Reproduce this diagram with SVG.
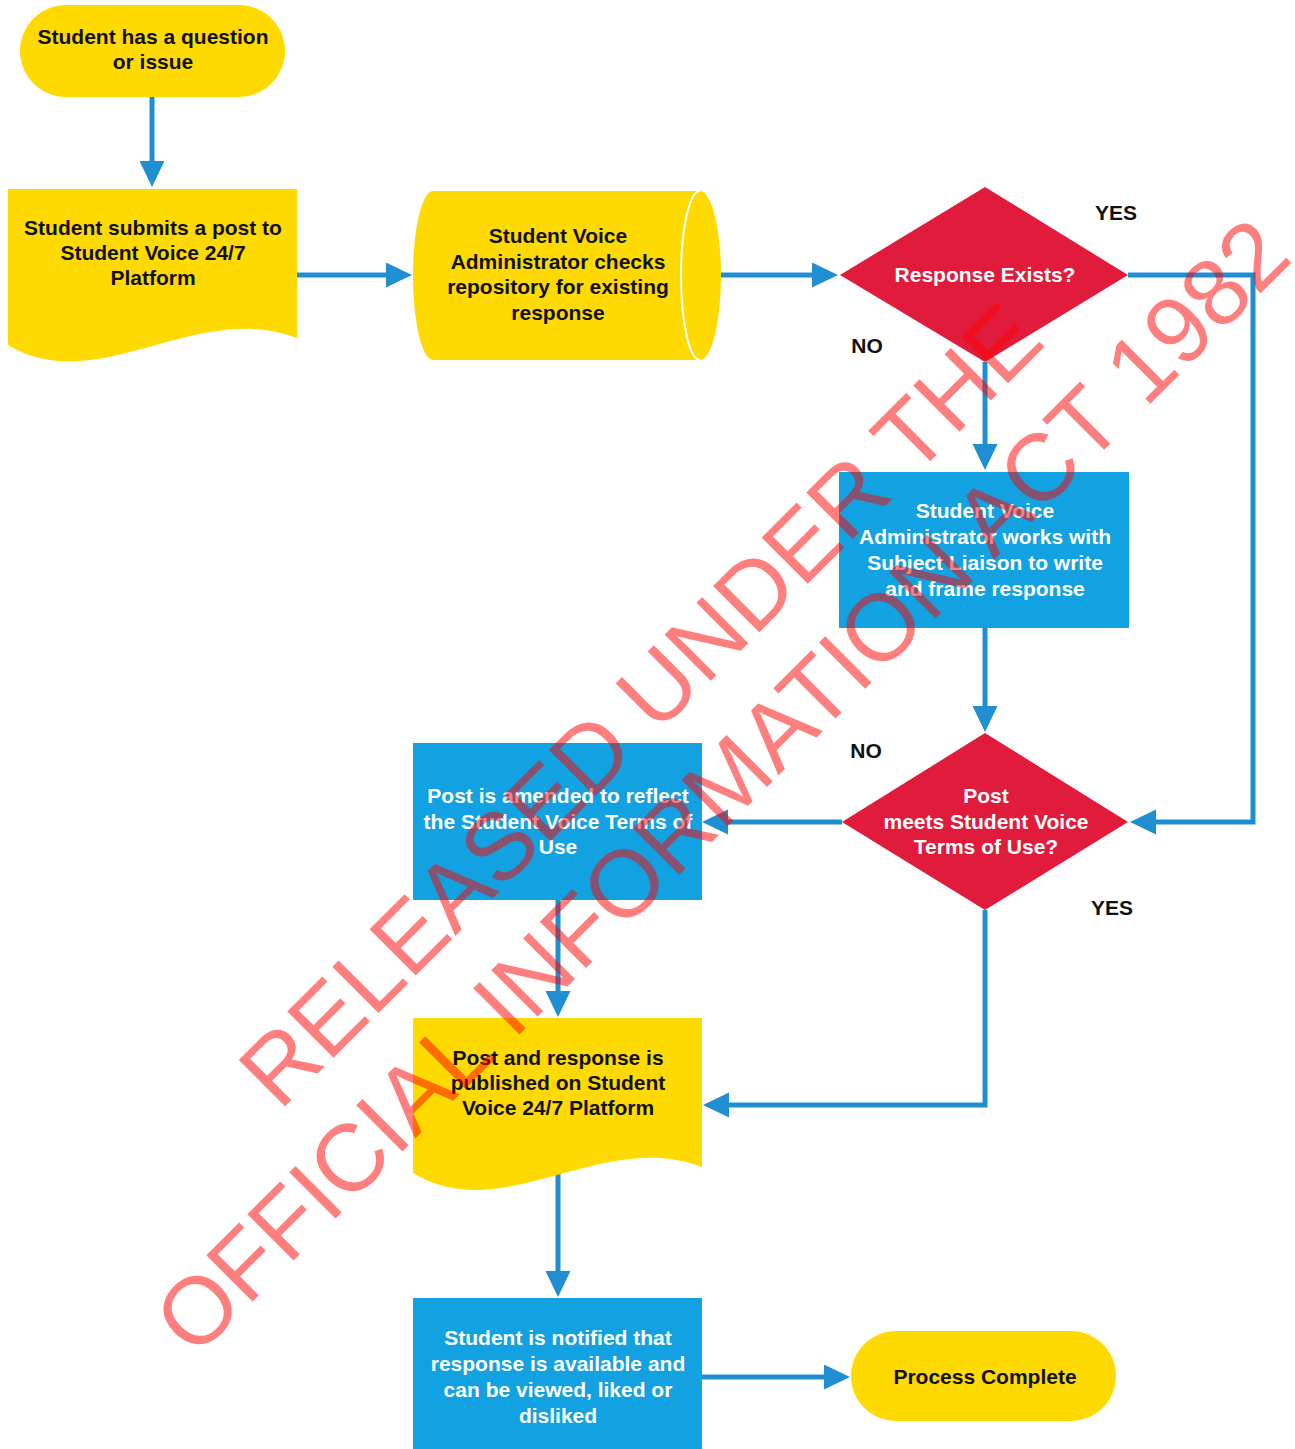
<svg xmlns="http://www.w3.org/2000/svg" width="1295" height="1449" viewBox="0 0 1295 1449">
  <style>
    .yellow { fill: #FFDA00; }
    .blue { fill: #12A2E1; }
    .red { fill: #E11B3C; }
    .conn { fill: none; stroke: #1F8FD1; stroke-width: 5; stroke-linejoin: miter; marker-end: url(#arrow); }
    text { font-family: "Liberation Sans", Arial, sans-serif; font-size: 21px; font-weight: bold; text-anchor: middle; }
    .dark { fill: #111111; }
    .light { fill: #FFFFFF; }
    .wm { font-family: "Liberation Sans", Arial, sans-serif; font-size: 95px; font-weight: normal; fill: #FF0000; fill-opacity: 0.5; text-anchor: middle; }
  </style>
  <defs>
    <marker id="arrow" markerUnits="userSpaceOnUse" markerWidth="26" markerHeight="26" refX="18" refY="12.5" orient="auto">
      <path d="M0,0 L26,12.5 L0,25 Z" fill="#1F8FD1"/>
    </marker>
  </defs>

  <rect width="1295" height="1449" fill="#FFFFFF"/>

  <!-- connectors -->
  <g id="connectors">
    <path class="conn" d="M152,97 V179"/>
    <path class="conn" d="M297,275 H404"/>
    <path class="conn" d="M700,275 H830"/>
    <path class="conn" d="M1128,275 H1253 V822 H1138"/>
    <path class="conn" d="M985,362 V462"/>
    <path class="conn" d="M985,628 V724"/>
    <path class="conn" d="M842,822 H710"/>
    <path class="conn" d="M558,900 V1009"/>
    <path class="conn" d="M985,910 V1105 H711"/>
    <path class="conn" d="M558,1168 V1289"/>
    <path class="conn" d="M702,1377 H842"/>
  </g>

  <!-- edge labels -->
  <g id="labels">
    <text class="dark" x="1116" y="220">YES</text>
    <text class="dark" x="867" y="353">NO</text>
    <text class="dark" x="866" y="758">NO</text>
    <text class="dark" x="1112" y="915">YES</text>
  </g>

  <!-- start terminal -->
  <g id="start">
    <rect class="yellow" x="20" y="5" width="265" height="92" rx="46"/>
    <text class="dark" x="153" y="44">Student has a question</text>
    <text class="dark" x="153" y="69">or issue</text>
  </g>

  <!-- submitted post (document) -->
  <g id="submit">
    <path class="yellow" d="M8,189 H297 V338 C197,299 97,399 8,345 Z"/>
    <text class="dark" x="153" y="235">Student submits a post to</text>
    <text class="dark" x="153" y="260">Student Voice 24/7</text>
    <text class="dark" x="153" y="285">Platform</text>
  </g>

  <!-- repository check (stored data) -->
  <g id="check">
    <path class="yellow" d="M433,191 H700 A21,84.5 0 0 1 700,360 H433 A20,84.5 0 0 1 433,191 Z"/>
    <path d="M700,191 A19,84.5 0 0 0 700,360" fill="none" stroke="#FFFFFF" stroke-width="2"/>
    <text class="dark" x="558" y="243">Student Voice</text>
    <text class="dark" x="558" y="269">Administrator checks</text>
    <text class="dark" x="558" y="294">repository for existing</text>
    <text class="dark" x="558" y="320">response</text>
  </g>

  <!-- decision: response exists -->
  <g id="exists">
    <polygon class="red" points="840,275 985,187 1128,275 985,362"/>
    <text class="light" x="985" y="282">Response Exists?</text>
  </g>

  <!-- write response -->
  <g id="write">
    <rect class="blue" x="839" y="472" width="290" height="156"/>
    <text class="light" x="985" y="518">Student Voice</text>
    <text class="light" x="985" y="544">Administrator works with</text>
    <text class="light" x="985" y="570">Subject Liaison to write</text>
    <text class="light" x="985" y="596">and frame response</text>
  </g>

  <!-- decision: terms of use -->
  <g id="terms">
    <polygon class="red" points="842,822 985,733 1128,822 985,910"/>
    <text class="light" x="986" y="803">Post</text>
    <text class="light" x="986" y="829">meets Student Voice</text>
    <text class="light" x="986" y="854">Terms of Use?</text>
  </g>

  <!-- amend post -->
  <g id="amend">
    <rect class="blue" x="413" y="743" width="289" height="157"/>
    <text class="light" x="558" y="803">Post is amended to reflect</text>
    <text class="light" x="558" y="829">the Student Voice Terms of</text>
    <text class="light" x="558" y="854">Use</text>
  </g>

  <!-- published (document) -->
  <g id="publish">
    <path class="yellow" d="M413,1018 H702 V1167 C602,1128 502,1228 413,1173 Z"/>
    <text class="dark" x="558" y="1065">Post and response is</text>
    <text class="dark" x="558" y="1090">published on Student</text>
    <text class="dark" x="558" y="1115">Voice 24/7 Platform</text>
  </g>

  <!-- notify student -->
  <g id="notify">
    <rect class="blue" x="413" y="1298" width="289" height="151"/>
    <text class="light" x="558" y="1345">Student is notified that</text>
    <text class="light" x="558" y="1371">response is available and</text>
    <text class="light" x="558" y="1397">can be viewed, liked or</text>
    <text class="light" x="558" y="1423">disliked</text>
  </g>

  <!-- end terminal -->
  <g id="end">
    <rect class="yellow" x="851" y="1331" width="265" height="90" rx="45"/>
    <text class="dark" x="985" y="1384">Process Complete</text>
  </g>

  <!-- release stamp -->
  <g id="stamp" transform="translate(189,1365) rotate(-45)">
    <text class="wm" x="786" y="-115">RELEASED UNDER THE</text>
    <text class="wm" x="786" y="0">OFFICIAL INFORMATION ACT 1982</text>
  </g>
</svg>
